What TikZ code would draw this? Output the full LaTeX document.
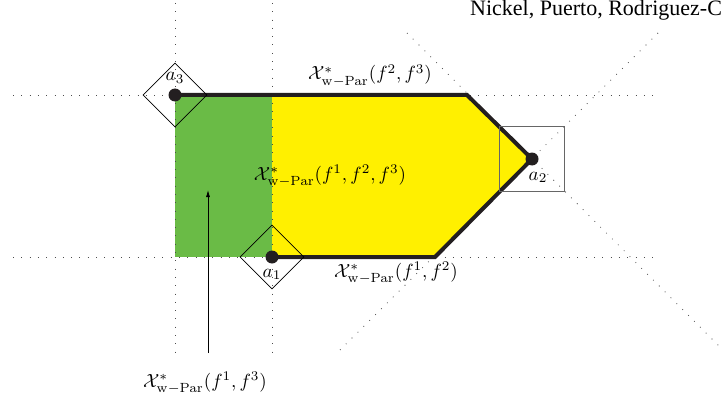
\documentclass[tikz,border=0pt]{standalone}
\usepackage[no-math]{fontspec}
\newfontfamily\timesfont{Liberation Serif}
\usetikzlibrary{arrows.meta,shapes.geometric}
\definecolor{pgreen}{RGB}{106,187,70}
\definecolor{pyellow}{RGB}{255,240,0}
\definecolor{pblack}{RGB}{35,31,32}
\begin{document}
\begin{tikzpicture}[x=1pt,y=-1pt,
  guide/.style={draw=black!70, line width=0.8pt, dash pattern=on 0.8pt off 7.5pt},
  front/.style={draw=pblack, line width=4pt, line join=miter},
  lball/.style={diamond, aspect=1, draw=black, line width=0.8pt, minimum size=64pt, inner sep=0pt},
  sball/.style={rectangle, draw=black!60, line width=1.2pt, minimum size=65pt, inner sep=0pt},
  dot/.style={circle, fill=pblack, inner sep=0pt, minimum size=13pt},
  lab/.style={font=\normalsize, scale=1.9, transform shape, inner sep=0pt, anchor=base},
]
\useasboundingbox (0,0) rectangle (725,401);
\coordinate (a3) at (175,95);
\coordinate (a1) at (272,257);
\coordinate (a2) at (532,159);
\coordinate (t1) at (272,95);
\coordinate (t2) at (467,95);
\coordinate (b2) at (435,257);
% fills
\fill[pgreen] (a3) rectangle (a1);
\fill[pyellow] (t1) -- (t2) -- (a2) -- (b2) -- (a1) -- cycle;
% guides
\coordinate (h1w) at (13,95);  \coordinate (h1e) at (657,95);
\coordinate (h2w) at (13,257); \coordinate (h2e) at (657,257);
\coordinate (v1n) at (175,3);  \coordinate (v1s) at (175,353);
\coordinate (v2n) at (272,3);  \coordinate (v2s) at (272,353);
\coordinate (d1n) at (407,33); \coordinate (d1s) at (722,349);
\coordinate (d2n) at (658,33); \coordinate (d2s) at (337,353);
\draw[guide] (h1w) -- (h1e);
\draw[guide] (h2w) -- (h2e);
\draw[guide] (v1n) -- (v1s);
\draw[guide] (v2n) -- (v2s);
\draw[guide] (d1n) -- (d1s);
\draw[guide] (d2n) -- (d2s);
% frontier
\draw[front] (a3) -- (t2) -- (a2) -- (b2) -- (a1);
% balls
\node[lball] (ball3) at (a3) {};
\node[lball] (ball1) at (a1) {};
\node[sball] (ball2) at (a2) {};
% points
\node[dot] (p3) at (a3) {};
\node[dot] (p1) at (a1) {};
\node[dot] (p2) at (a2) {};
% labels
\node[lab] (la3) at (175,81) {$a_3$};
\node[lab] (la1) at (272,277) {$a_1$};
\node[lab] (la2) at (538,180) {$a_2$};
\node[lab] (l23) at (370,80) {$\mathcal{X}^*_{\mathrm{w-Par}}(f^2,f^3)$};
\node[lab] (l123) at (330,180) {$\mathcal{X}^*_{\mathrm{w-Par}}(f^1,f^2,f^3)$};
\node[lab] (l12) at (396,277) {$\mathcal{X}^*_{\mathrm{w-Par}}(f^1,f^2)$};
\node[lab] (l13) at (205,387) {$\mathcal{X}^*_{\mathrm{w-Par}}(f^1,f^3)$};
\coordinate (arrbase) at (208,353);
\coordinate (arrtip) at (208,190);
\draw[-{Latex[length=7pt,width=4pt]}, line width=0.8pt] (arrbase) -- (arrtip);
\node[font=\timesfont\fontsize{22}{26}\selectfont, anchor=base west, inner sep=0pt] (hdr) at (470,16) {Nickel, Puerto, Rodriguez-C};
\end{tikzpicture}
\end{document}
